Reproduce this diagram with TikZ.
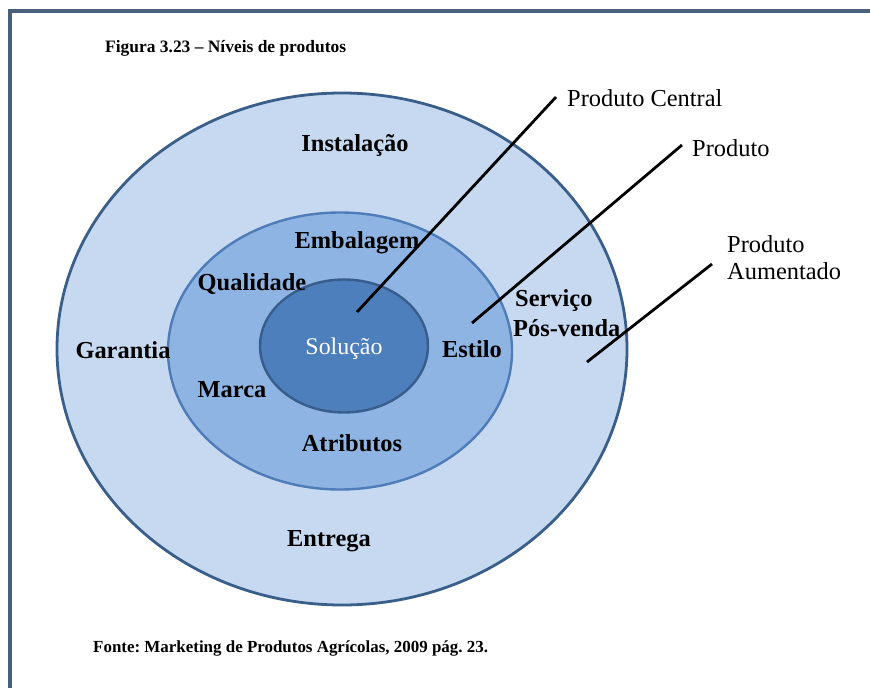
\documentclass[tikz,border=0pt]{standalone}
\usepackage{fontspec}
\setmainfont{Liberation Serif}
\frenchspacing
\usetikzlibrary{shapes.geometric}
\definecolor{frameC}{RGB}{72,96,124}
\definecolor{outerF}{RGB}{198,217,241}
\definecolor{outerD}{RGB}{58,94,138}
\definecolor{midF}{RGB}{142,180,227}
\definecolor{midD}{RGB}{78,124,184}
\definecolor{innF}{RGB}{76,127,188}
\definecolor{innD}{RGB}{56,93,138}
\tikzset{
  ring/.style={ellipse, inner sep=0pt},
  lbl/.style={font=\fontsize{24.5}{27}\selectfont\bfseries, inner sep=0pt},
  side/.style={font=\fontsize{24.5}{27}\selectfont, inner sep=0pt, anchor=west, align=left},
  leader/.style={line width=2.8pt, black}
}
\begin{document}
\begin{tikzpicture}[x=1bp,y=-1bp]
\useasboundingbox (0,0) rectangle (870,688);
\fill[white] (0,0) rectangle (870,688);
% frame
\draw[frameC, line width=4pt] (10,688) -- (10,11) -- (870,11);
% title
\node[font=\fontsize{17.5}{19}\selectfont\bfseries, anchor=west, inner sep=0pt] (title) at (105,48) {Figura 3.23 – Níveis de produtos};
% rings
\node[ring, draw=outerD, line width=2.8pt, fill=outerF, minimum width=570bp, minimum height=512bp] (outer) at (342,349) {};
\node[ring, draw=midD, line width=2.4pt, fill=midF, minimum width=344bp, minimum height=277bp] (mid) at (340,351) {};
\node[ring, draw=innD, line width=2.4pt, fill=innF, minimum width=168bp, minimum height=133bp] (inner) at (344,346) {};
% labels
\node[font=\fontsize{24}{27}\selectfont, text=white, inner sep=0pt] (sol) at (344,349) {Solução};
\node[lbl] (inst) at (355,146) {Instalação};
\node[lbl] (emb) at (357,243) {Embalagem};
\node[lbl] (qual) at (252,284) {Qualidade};
\node[lbl, anchor=west] (serv) at (515,301) {Serviço};
\node[lbl, anchor=west] (pos) at (513,328) {Pós-venda};
\node[lbl, anchor=west] (est) at (442,349) {Estilo};
\node[lbl] (gar) at (123,350) {Garantia};
\node[lbl] (marca) at (232,390) {Marca};
\node[lbl] (atr) at (352,443) {Atributos};
\node[lbl] (ent) at (329,541) {Entrega};
% side labels
\node[side] (pc) at (567,98) {Produto Central};
\node[side] (pr) at (692,148) {Produto};
\node[side] (pa) at (727,258) {Produto\\Aumentado};
% leaders
\coordinate (pcA) at (357,312);
\coordinate (pcB) at (556,97);
\coordinate (prA) at (472,323);
\coordinate (prB) at (682,145);
\coordinate (paA) at (587,362);
\coordinate (paB) at (712,264);
\draw[leader] (pcA) -- (pcB);
\draw[leader] (prA) -- (prB);
\draw[leader] (paA) -- (paB);
% source
\node[font=\fontsize{17}{19}\selectfont\bfseries, anchor=west, inner sep=0pt] (fonte) at (93,648) {Fonte: Marketing de Produtos Agrícolas, 2009 pág. 23.};
\end{tikzpicture}
\end{document}
